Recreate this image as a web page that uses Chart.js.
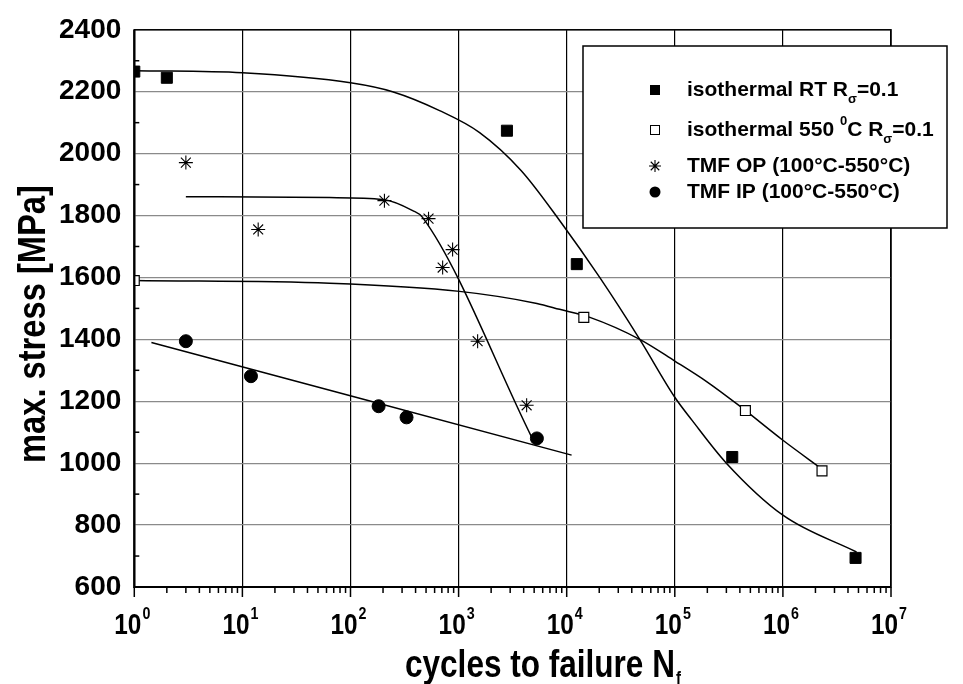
<!DOCTYPE html>
<html>
<head>
<meta charset="utf-8">
<script src="https://cdn.jsdelivr.net/npm/chart.js@4.4.1/dist/chart.umd.min.js"></script>
<style>
  html, body { margin: 0; padding: 0; background: #fff; }
  #wrap { width: 963px; height: 684px; }
</style>
</head>
<body>
<div id="wrap"><canvas id="sn" width="963" height="684"></canvas></div>
<script>
const FONT = '"Liberation Sans", Arial, sans-serif';

// measured points (cycles to failure, max. stress in MPa)
const rtN = [1, 2, 2800, 12400, 340000, 4700000];
const rtS = [2265, 2245, 2074, 1643, 1020, 694];
const hotN = [1, 14400, 450000, 2300000];
const hotS = [1590, 1471, 1170, 975];
const opN = [3, 14, 206, 527, 712, 880, 1500, 4260];
const opS = [1971, 1755, 1848, 1790, 1632, 1690, 1394, 1187];
const ipN = [3, 12, 182, 330, 5300];
const ipS = [1394, 1281, 1184, 1148, 1080];

// fitted curves
const rtFitN = [1, 10, 100, 245, 667, 1565, 3800, 8600, 20200, 47400, 100000, 144000, 300000, 1000000, 4800000];
const rtFitS = [2268, 2261, 2229, 2200, 2139, 2068, 1945, 1784, 1600, 1400, 1213, 1139, 1000, 832, 713];
const hotFitN = [1, 64, 1020, 5300, 8600, 16400, 47400, 100000, 200000, 400000, 1000000, 2300000];
const hotFitS = [1590, 1581, 1555, 1516, 1497, 1471, 1400, 1330, 1262, 1184, 1074, 981];
const opFitN = [3, 64, 200, 376, 464, 4740];
const opFitS = [1861, 1858, 1852, 1816, 1794, 1084];
const ipFitN = [1.44, 11100];
const ipFitS = [1390, 1026];

const yTicks = [600, 800, 1000, 1200, 1400, 1600, 1800, 2000, 2200, 2400];
const xDecades = [0, 1, 2, 3, 4, 5, 6, 7];

function pts(xs, ys) {
  return xs.map((x, i) => ({ x, y: ys[i] }));
}

function fitLine(xs, ys) {
  return {
    type: 'line',
    data: pts(xs, ys),
    showLine: true,
    borderColor: '#000',
    borderWidth: 1.5,
    pointRadius: 0,
    cubicInterpolationMode: 'monotone',
    fill: false,
    clip: 0,
    order: 2
  };
}

function marks(xs, ys, style, extra = {}) {
  return Object.assign({
    type: 'scatter',
    data: pts(xs, ys),
    pointStyle: style,
    pointRadius: 7,
    backgroundColor: '#000',
    borderColor: '#000',
    borderWidth: 1,
    clip: 0,
    order: 1
  }, extra);
}

function isDecade(v) {
  if (!v) return false;
  const l = Math.log10(v);
  return Math.abs(l - Math.round(l)) < 1e-9;
}

// draw text squeezed horizontally (the original uses a narrow bold face)
function squeezed(ctx, text, x, y, size, sx, align) {
  ctx.save();
  ctx.font = `bold ${size}px ${FONT}`;
  const w = ctx.measureText(text).width * sx;
  let left = x;
  if (align === 'center') left = x - w / 2;
  if (align === 'right') left = x - w;
  ctx.translate(left, y);
  ctx.scale(sx, 1);
  ctx.textAlign = 'left';
  ctx.fillText(text, 0, 0);
  ctx.restore();
  return w;
}

function runs(ctx, x, y, parts) {
  // parts: [text, size, dy]
  let cx = x;
  parts.forEach(([t, size, dy]) => {
    ctx.font = `bold ${size}px ${FONT}`;
    ctx.fillText(t, cx, y + dy);
    cx += ctx.measureText(t).width;
  });
}

const decor = {
  id: 'decor',
  afterDatasetsDraw(chart) {
    const { ctx, chartArea: a, scales } = chart;
    const xs = scales.x, ys = scales.y;
    ctx.save();
    ctx.strokeStyle = '#000';
    ctx.fillStyle = '#000';

    // frame
    ctx.lineWidth = 1.5;
    ctx.strokeRect(a.left, a.top, a.right - a.left, a.bottom - a.top);
    ctx.lineWidth = 2.2;
    ctx.beginPath();
    ctx.moveTo(a.left, a.top);
    ctx.lineTo(a.left, a.bottom);
    ctx.lineTo(a.right, a.bottom);
    ctx.stroke();

    // x ticks, outward
    ctx.lineWidth = 1.5;
    xDecades.forEach(d => {
      for (let m = 1; m <= 9; m++) {
        const v = m * Math.pow(10, d);
        if (v > 1e7) break;
        const px = xs.getPixelForValue(v);
        const len = m === 1 ? 10 : 6;
        ctx.beginPath();
        ctx.moveTo(px, a.bottom);
        ctx.lineTo(px, a.bottom + len);
        ctx.stroke();
      }
    });

    // y minor ticks, inward
    for (let v = 700; v < 2400; v += 200) {
      const py = ys.getPixelForValue(v);
      ctx.beginPath();
      ctx.moveTo(a.left, py);
      ctx.lineTo(a.left + 5, py);
      ctx.stroke();
    }

    // x tick labels 10^n
    ctx.textBaseline = 'alphabetic';
    xDecades.forEach(d => {
      const px = xs.getPixelForValue(Math.pow(10, d));
      const w = squeezed(ctx, '10', px - 20, 634, 29, 0.84, 'left');
      squeezed(ctx, String(d), px - 20 + w + 1, 619, 17, 0.84, 'left');
    });

    // axis titles
    const tw = squeezed(ctx, 'cycles to failure N', 405, 677, 38, 0.83, 'left');
    squeezed(ctx, 'f', 405 + tw + 1, 684, 18, 0.83, 'left');

    ctx.save();
    ctx.translate(45, 463);
    ctx.rotate(-Math.PI / 2);
    squeezed(ctx, 'max. stress [MPa]', 0, 0, 38, 0.86, 'left');
    ctx.restore();

    // legend box
    const bx = 583, by = 46, bw = 364, bh = 182;
    ctx.fillStyle = '#fff';
    ctx.fillRect(bx, by, bw, bh);
    ctx.lineWidth = 1.5;
    ctx.strokeRect(bx, by, bw, bh);
    ctx.fillStyle = '#000';

    const mx = 655, tx = 687;
    const rows = [90, 130, 166, 192];
    // filled square
    ctx.fillRect(mx - 5, rows[0] - 5, 10, 10);
    // open square
    ctx.lineWidth = 1;
    ctx.strokeRect(mx - 4.5, rows[1] - 4.5, 9, 9);
    // asterisk
    ctx.lineWidth = 1.1;
    ctx.beginPath();
    for (let k = 0; k < 4; k++) {
      const ang = k * Math.PI / 4;
      ctx.moveTo(mx - 6 * Math.cos(ang), rows[2] - 6 * Math.sin(ang));
      ctx.lineTo(mx + 6 * Math.cos(ang), rows[2] + 6 * Math.sin(ang));
    }
    ctx.stroke();
    // dot
    ctx.beginPath();
    ctx.arc(mx, rows[3], 5.5, 0, Math.PI * 2);
    ctx.fill();

    ctx.textBaseline = 'middle';
    ctx.textAlign = 'left';
    runs(ctx, tx, rows[0], [['isothermal RT R', 21, 0], ['\u03c3', 13, 9], ['=0.1', 21, 0]]);
    runs(ctx, tx, rows[1], [['isothermal 550 ', 21, 0], ['0', 13, -9], ['C R', 21, 0], ['\u03c3', 13, 9], ['=0.1', 21, 0]]);
    runs(ctx, tx, rows[2], [['TMF OP (100\u00b0C-550\u00b0C)', 21, 0]]);
    runs(ctx, tx, rows[3], [['TMF IP (100\u00b0C-550\u00b0C)', 21, 0]]);

    ctx.restore();
  }
};

new Chart(document.getElementById('sn'), {
  type: 'scatter',
  data: {
    datasets: [
      fitLine(rtFitN, rtFitS),
      fitLine(hotFitN, hotFitS),
      fitLine(opFitN, opFitS),
      fitLine(ipFitN, ipFitS),
      marks(rtN, rtS, 'rect', { pointRadius: 7.8 }),
      marks(hotN, hotS, 'rect', { pointRadius: 7, backgroundColor: '#fff', borderWidth: 1.2 }),
      marks(opN, opS, 'star', { pointRadius: 7, borderWidth: 1.1, backgroundColor: 'rgba(0,0,0,0)' }),
      marks(ipN, ipS, 'circle', { pointRadius: 6.5 })
    ]
  },
  options: {
    responsive: false,
    animation: false,
    devicePixelRatio: 1,
    layout: { padding: { left: 46, top: 29, right: 72, bottom: 97 } },
    plugins: { legend: { display: false }, tooltip: { enabled: false } },
    scales: {
      x: {
        type: 'logarithmic',
        min: 1,
        max: 1e7,
        ticks: { display: false },
        border: { display: false },
        grid: {
          drawTicks: false,
          lineWidth: 1.2,
          color: c => (c.tick && isDecade(c.tick.value) ? '#000' : 'rgba(0,0,0,0)')
        }
      },
      y: {
        min: 600,
        max: 2400,
        afterBuildTicks: axis => { axis.ticks = yTicks.map(v => ({ value: v })); },
        ticks: {
          color: '#000',
          padding: 13,
          font: { family: FONT, size: 28, weight: 'bold' },
          callback: v => String(v)
        },
        border: { display: false },
        grid: { drawTicks: false, lineWidth: 1.3, color: '#8a8a8a' }
      }
    }
  },
  plugins: [decor]
});
</script>
</body>
</html>
